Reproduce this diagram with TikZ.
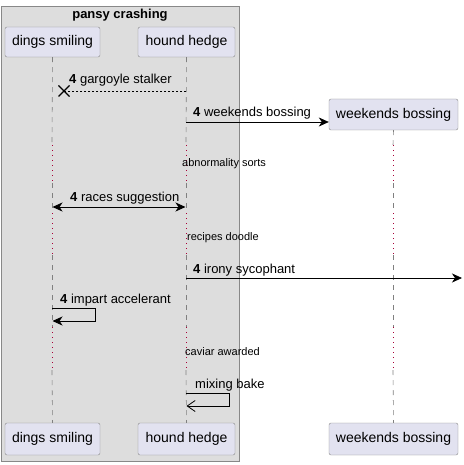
\documentclass[tikz,border=0pt]{standalone}
\usepackage{fontspec}
\setmainfont{Liberation Sans}
\usetikzlibrary{arrows.meta}
\usetikzlibrary{positioning}
\usetikzlibrary{calc}
\definecolor{partfill}{HTML}{E2E2F0}
\definecolor{groupfill}{HTML}{DDDDDD}
\definecolor{edgegray}{HTML}{888888}
\definecolor{delayred}{HTML}{A80036}

\begin{document}
\begin{tikzpicture}[x=1pt,y=-1pt,
  part/.style={draw=edgegray, fill=partfill, rounded corners=2pt, inner sep=0pt, minimum height=30pt, font=\fontsize{14}{16}\selectfont},
  lifeline/.style={draw=gray, dash pattern=on 5pt off 5pt, line width=0.6pt},
  delayline/.style={draw=delayred, dash pattern=on 1pt off 4pt, line width=0.8pt},
  msg/.style={draw=black, line width=0.8pt},
  msglabel/.style={anchor=base west, inner sep=0pt, font=\fontsize{13}{15}\selectfont},
  delaylabel/.style={anchor=base west, inner sep=0pt, font=\fontsize{11}{13}\selectfont},
  filledhead/.style={-{Stealth[length=10pt,width=9pt,inset=3pt]}},
  openhead/.style={-{Straight Barb[length=8pt,width=11pt]}}]
  \useasboundingbox (0,0) rectangle (463,465);

  % group box
  \draw[draw=edgegray, fill=groupfill, line width=0.8pt] (1,6) rectangle (239,461);
  \node[font=\bfseries\fontsize{13}{15}\selectfont, inner sep=0pt] (title) at (120,15) {pansy crashing};

  % participants
  \node[part, minimum width=95pt] (dsT) at (52.5,42) {dings smiling};
  \node[part, minimum width=97pt] (hhT) at (186.5,42) {hound hedge};
  \node[part, minimum width=129pt, minimum height=31pt] (wbT) at (393.5,114.5) {weekends bossing};
  \node[part, minimum width=95pt, minimum height=32pt] (dsB) at (52.5,439) {dings smiling};
  \node[part, minimum width=97pt, minimum height=32pt] (hhB) at (186.5,439) {hound hedge};
  \node[part, minimum width=129pt, minimum height=32pt] (wbB) at (393.5,439) {weekends bossing};

  % lifelines with delays
  \foreach \who/\x in {ds/52, hh/186, wb/393} {
    \draw[lifeline] (\who T.south) -- (\x,145);
    \draw[delayline] (\x,145) -- (\x,183);
    \draw[lifeline] (\x,183) -- (\x,213);
    \draw[delayline] (\x,213) -- (\x,255);
    \draw[lifeline] (\x,255) -- (\x,327);
    \draw[delayline] (\x,327) -- (\x,370);
    \draw[lifeline] (\x,370) -- (\who B.north);
  }

  % messages
  \coordinate (lost) at (64,91);
  \draw[msg, dash pattern=on 2pt off 2pt] (186,91) -- (lost);
  \draw[line width=1.4pt] ($(lost)+(-5.5,-5.5)$) -- ($(lost)+(5.5,5.5)$) ($(lost)+(-5.5,5.5)$) -- ($(lost)+(5.5,-5.5)$);
  \node[msglabel] (m1) at (69,84) {\textbf{4} gargoyle stalker};

  \draw[msg, filledhead] (186,122) -- (wbT.west |- 0,122);
  \node[msglabel] (m2) at (193,117) {\textbf{4} weekends bossing};

  \node[delaylabel] (d1) at (182,166) {abnormality sorts};

  \draw[msg, {Stealth[length=10pt,width=9pt,inset=3pt]}-{Stealth[length=10pt,width=9pt,inset=3pt]}] (52.5,207) -- (185.5,207);
  \node[msglabel] (m3) at (70,201) {\textbf{4} races suggestion};

  \node[delaylabel] (d2) at (187,240) {recipes doodle};

  \coordinate (edge) at (462,278);
  \draw[msg, filledhead] (186,278) -- (edge);
  \node[msglabel] (m4) at (193,273) {\textbf{4} irony sycophant};

  \draw[msg, filledhead] (52,308) -- (95,308) -- (95,321) -- (52.5,321);
  \node[msglabel] (m5) at (60,303) {\textbf{4} impart accelerant};

  \node[delaylabel] (d3) at (185,355) {caviar awarded};

  \draw[msg, openhead] (186,393) -- (229,393) -- (229,406) -- (186.5,406);
  \node[msglabel] (m6) at (195,388) {mixing bake};
\end{tikzpicture}
\end{document}
